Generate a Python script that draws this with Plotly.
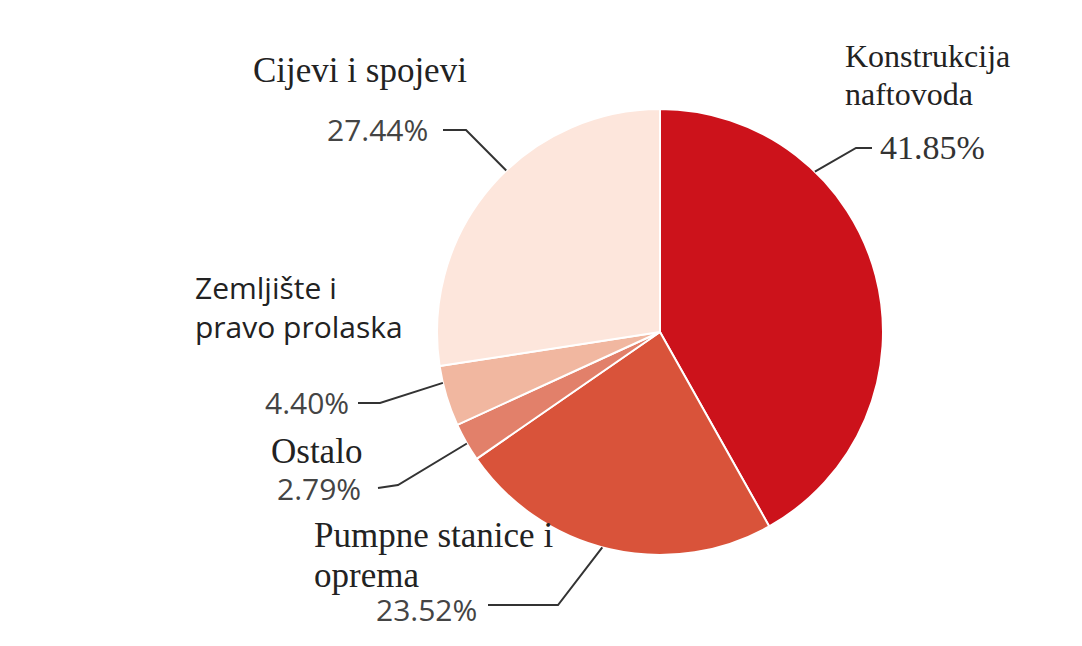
import math
import plotly.graph_objects as go

# ---- data ----
categories = ["Konstrukcija naftovoda", "Pumpne stanice i oprema", "Ostalo",
              "Zemljište i pravo prolaska", "Cijevi i spojevi"]
shares = [41.85, 23.52, 2.79, 4.40, 27.44]
pct_labels = ["41.85%", "23.52%", "2.79%", "4.40%", "27.44%"]
name_lines = [["Konstrukcija", "naftovoda"], ["Pumpne stanice i", "oprema"], ["Ostalo"],
              ["Zemljište i", "pravo prolaska"], ["Cijevi i spojevi"]]
colors = ["#cc121b", "#d9533a", "#e2806a", "#f1b7a0", "#fde6dc"]

W, H = 1082, 646
OFF = 8  # page body margin
CX, CY, R = 660, 332, 223  # pie geometry in pixels (screen)


def px(x, y):
    return (x - OFF) / W, 1 - (y - OFF) / H


fig = go.Figure(go.Pie(
    labels=categories, values=shares, sort=False, direction="clockwise",
    rotation=0, textinfo="none", hoverinfo="label+percent", showlegend=False,
    marker=dict(colors=colors, line=dict(color="white", width=2)),
    domain=dict(x=[(CX - R - OFF) / W, (CX + R - OFF) / W],
                y=[(H - (CY - OFF) - R) / H, (H - (CY - OFF) + R) / H]),
))

SERIF = "Liberation Serif"
SANS = "Open Sans"

# label layout: (text, x, y, xanchor, font, size, color)
label_layout = [
    (name_lines[0][0], 843, 56, "left", SERIF, 32, "#222"),
    (name_lines[0][1], 843, 94, "left", SERIF, 32, "#222"),
    (pct_labels[0], 878, 147, "left", SERIF, 34, "#333"),
    (name_lines[4][0], 360, 70, "center", SERIF, 35, "#222"),
    (pct_labels[4], 430, 130, "right", SANS, 30, "#444"),
    (name_lines[3][0], 193, 287, "left", SANS, 30, "#222"),
    (name_lines[3][1], 193, 327, "left", SANS, 30, "#222"),
    (pct_labels[3], 351, 403, "right", SANS, 30, "#444"),
    (name_lines[2][0], 316, 451, "center", SERIF, 35, "#222"),
    (pct_labels[2], 363, 488, "right", SANS, 30, "#444"),
    (name_lines[1][0], 312, 535, "left", SERIF, 35, "#222"),
    (name_lines[1][1], 312, 575, "left", SERIF, 35, "#222"),
    (pct_labels[1], 479, 609, "right", SANS, 30, "#444"),
]
for text, x, y, xa, fam, size, col in label_layout:
    ax, ay = px(x, y)
    fig.add_annotation(text=text, x=ax, y=ay, xref="paper", yref="paper",
                       xanchor=xa, yanchor="middle", showarrow=False,
                       font=dict(family=fam, size=size, color=col))

# leader lines: (edge angle clockwise from top in degrees, elbow px, end px)
leaders = [
    (44.0, (856, 148), (872, 148)),
    (195.0, (558, 605), (488, 605)),
    (240.0, (398, 485), (378, 488)),
    (256.8, (380, 403), (358, 403)),
    (316.4, (466, 130), (443, 130)),
]
for ang, (ex, ey), (tx, ty) in leaders:
    a = math.radians(ang)
    sx, sy = CX + R * math.sin(a), CY - R * math.cos(a)
    pts = [px(sx, sy), px(ex, ey), px(tx, ty)]
    path = "M " + " L ".join(f"{p[0]},{p[1]}" for p in pts)
    fig.add_shape(type="path", path=path, xref="paper", yref="paper",
                  line=dict(color="#333", width=2))

fig.update_layout(width=W, height=H, margin=dict(l=0, r=0, t=0, b=0),
                  paper_bgcolor="white", plot_bgcolor="white")
fig.write_html("out.html")
